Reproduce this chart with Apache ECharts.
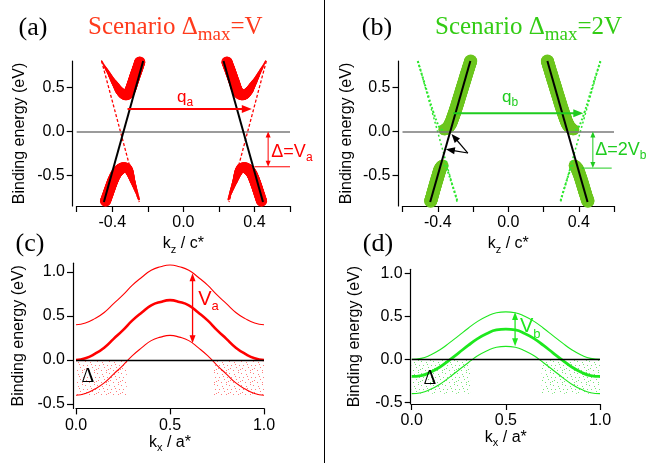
<!DOCTYPE html>
<html><head><meta charset="utf-8">
<script src="https://cdn.jsdelivr.net/npm/echarts@6.0.0/dist/echarts.min.js"></script>
<style>html,body{margin:0;padding:0;background:#fff;}#c{width:648px;height:463px;}</style>
</head><body><div id="c"></div>
<script>
// ================= DATA =================
const kzTicks = [-0.6, -0.4, -0.2, 0, 0.2, 0.4, 0.6];
const kzLabels = [-0.4, 0, 0.4];
const eTicksTop = [-0.5, 0, 0.5];
const kxTicks = [0, 0.5, 1];
const eTicksBottom = [-0.5, 0, 0.5, 1];

// panel (a): unperturbed bands (k, E)
const aBlackL = [[-0.447, -0.8], [-0.226, 0.8]];
const aBlackR = [[0.226, 0.8], [0.448, -0.8]];
const aDashL = [[-0.46, 0.8], [-0.248, -0.8]];
const aDashR = [[0.467, 0.8], [0.257, -0.8]];
// gapped bands (k, E, spectral weight)
const aUL = [[-0.460,0.80,0.12],[-0.440,0.73,0.2],[-0.419,0.66,0.3],[-0.400,0.59,0.42],[-0.381,0.53,0.56],[-0.362,0.47,0.72],[-0.343,0.43,0.86],[-0.325,0.415,0.97],[-0.31,0.43,1],[-0.297,0.48,1],[-0.285,0.55,1],[-0.272,0.63,1],[-0.258,0.71,1],[-0.245,0.79,1]];
const aLL = [[-0.438,-0.79,1],[-0.424,-0.71,1],[-0.41,-0.63,1],[-0.395,-0.55,1],[-0.378,-0.48,1],[-0.36,-0.435,1],[-0.342,-0.412,1],[-0.325,-0.41,0.95],[-0.31,-0.43,0.82],[-0.298,-0.48,0.66],[-0.287,-0.55,0.5],[-0.275,-0.62,0.38],[-0.263,-0.69,0.27],[-0.25,-0.77,0.18]];
const aUR = [[0.245,0.79,1],[0.26,0.71,1],[0.274,0.63,1],[0.288,0.55,1],[0.30,0.48,1],[0.315,0.43,1],[0.335,0.415,0.97],[0.353,0.43,0.86],[0.372,0.47,0.72],[0.39,0.53,0.56],[0.408,0.59,0.42],[0.426,0.66,0.3],[0.445,0.73,0.2],[0.463,0.80,0.12]];
const aLR = [[0.44,-0.79,1],[0.427,-0.71,1],[0.414,-0.63,1],[0.40,-0.55,1],[0.385,-0.48,1],[0.368,-0.435,1],[0.35,-0.412,1],[0.333,-0.41,0.95],[0.318,-0.43,0.82],[0.305,-0.48,0.66],[0.293,-0.55,0.5],[0.28,-0.62,0.38],[0.267,-0.69,0.27],[0.254,-0.77,0.18]];

// panel (b)
const bBlackL = [[-0.443, -0.8], [-0.215, 0.8]];
const bBlackR = [[0.222, 0.8], [0.45, -0.8]];
const bDotL = [[-0.512, 0.8], [-0.29, -0.8]];
const bDotR = [[0.522, 0.8], [0.297, -0.8]];
const bUL = [[-0.213,0.80,1],[-0.232,0.68,1],[-0.252,0.55,1],[-0.272,0.42,1],[-0.292,0.29,1],[-0.312,0.17,1],[-0.33,0.08,1],[-0.348,0.035,0.95],[-0.365,0.02,0.85]];
const bLL = [[-0.44,-0.79,1],[-0.427,-0.70,1],[-0.413,-0.60,1],[-0.398,-0.50,1],[-0.385,-0.42,1],[-0.372,-0.385,0.9]];
const bUR = [[0.222,0.80,1],[0.24,0.68,1],[0.26,0.55,1],[0.28,0.42,1],[0.30,0.29,1],[0.32,0.17,1],[0.338,0.08,1],[0.356,0.035,0.95],[0.372,0.02,0.85]];
const bLR = [[0.452,-0.79,1],[0.437,-0.70,1],[0.422,-0.60,1],[0.406,-0.50,1],[0.39,-0.42,1],[0.376,-0.385,0.9]];
const bULthin = [[-0.372,0.015],[-0.388,0.04],[-0.405,0.11],[-0.425,0.22],[-0.45,0.38],[-0.48,0.58],[-0.514,0.80]];
const bLLthin = [[-0.365,-0.38],[-0.352,-0.41],[-0.338,-0.48],[-0.322,-0.58],[-0.305,-0.68],[-0.287,-0.80]];
const bURthin = [[0.38,0.015],[0.396,0.04],[0.413,0.11],[0.433,0.22],[0.458,0.38],[0.488,0.58],[0.524,0.80]];
const bLRthin = [[0.368,-0.38],[0.357,-0.41],[0.344,-0.48],[0.328,-0.58],[0.312,-0.68],[0.295,-0.80]];

// panels (c), (d)
const kx = [0,0.05,0.1,0.15,0.2,0.25,0.3,0.35,0.4,0.45,0.5,0.55,0.6,0.65,0.7,0.75,0.8,0.85,0.9,0.95,1];
const cMid = [0,0.02,0.07,0.14,0.24,0.34,0.45,0.54,0.62,0.66,0.68,0.66,0.62,0.54,0.45,0.34,0.24,0.14,0.07,0.02,0];
const cUp  = [0.40,0.42,0.47,0.54,0.64,0.74,0.85,0.94,1.02,1.06,1.08,1.06,1.02,0.94,0.85,0.74,0.64,0.54,0.47,0.42,0.40];
const cLow = [-0.40,-0.38,-0.33,-0.26,-0.16,-0.06,0.05,0.14,0.22,0.26,0.28,0.26,0.22,0.14,0.05,-0.06,-0.16,-0.26,-0.33,-0.38,-0.40];
const dMid = [-0.20,-0.19,-0.15,-0.09,-0.01,0.075,0.16,0.24,0.30,0.34,0.35,0.34,0.30,0.24,0.16,0.075,-0.01,-0.09,-0.15,-0.19,-0.20];
const dUp  = [0.00,0.01,0.05,0.11,0.19,0.275,0.36,0.44,0.50,0.54,0.55,0.54,0.50,0.44,0.36,0.275,0.19,0.11,0.05,0.01,0.00];
const dLow = [-0.40,-0.39,-0.35,-0.29,-0.21,-0.125,-0.04,0.04,0.10,0.14,0.15,0.14,0.10,0.04,-0.04,-0.125,-0.21,-0.29,-0.35,-0.39,-0.40];
const cGapK = [[0, 0.27], [0.73, 1]];
const dGapK = [[0, 0.31], [0.69, 1]];
const gapDepth = -0.4;

// ================= STYLE =================
const SANS = '"Liberation Sans", Arial, Helvetica, sans-serif';
const SERIF = '"Liberation Serif", "Times New Roman", serif';
const RED = '#ff0000', RED_T = '#ff3a1c';
const GTHICK = '#6cc61e', GTHIN = '#2ee62e', GREEN = '#1fcc1f', GREEN_T = '#33cc14', GD = '#1ee81e';

const chart = echarts.init(document.getElementById('c'), null, {renderer: 'canvas', width: 648, height: 463});

function xAx(g, min, max, ticks, labels, sub, unit, gap) {
  return {
    type: 'value', gridIndex: g, min: min, max: max,
    axisLine: {onZero: false, lineStyle: {color: '#000', width: 1.2}},
    axisTick: {show: true, length: 6, inside: false, customValues: ticks, lineStyle: {color: '#000', width: 1.2}},
    axisLabel: {customValues: labels, formatter: v => v.toFixed(1), fontFamily: SANS, fontSize: 16, color: '#000', margin: 9},
    splitLine: {show: false},
    name: '{i|k}{s|' + sub + '}{i| / ' + unit + '*}', nameLocation: 'middle', nameGap: gap,
    nameTextStyle: {rich: {
      i: {fontFamily: SANS, fontSize: 16, color: '#000', lineHeight: 22},
      s: {fontFamily: SANS, fontSize: 11, color: '#000', lineHeight: 11, verticalAlign: 'bottom'}
    }}
  };
}
function yAx(g, min, max, ticks, off, gap) {
  return {
    type: 'value', gridIndex: g, min: min, max: max, offset: off,
    axisLine: {show: true, onZero: false, lineStyle: {color: '#000', width: 1.2}},
    axisTick: {show: true, length: 6, inside: false, customValues: ticks, lineStyle: {color: '#000', width: 1.2}},
    axisLabel: {customValues: ticks, formatter: v => v.toFixed(1), fontFamily: SANS, fontSize: 16, color: '#000', margin: 8},
    splitLine: {show: false},
    name: 'Binding energy (eV)', nameLocation: 'middle', nameGap: gap, nameRotate: 90,
    nameTextStyle: {fontFamily: SANS, fontSize: 16, color: '#000', lineHeight: 18}
  };
}

// variable-width band: dense round markers along a smoothed path through the data points
function band(g, pts, color, scale) {
  return {
    type: 'custom', xAxisIndex: g, yAxisIndex: g, clip: false, silent: true, z: 2,
    data: [[pts[0][0], pts[0][1]]],
    renderItem: function (params, api) {
      const c = pts.map(p => { const q = api.coord([p[0], p[1]]); return [q[0], q[1], p[2] * scale / 2]; });
      const n = c.length, kids = [];
      for (let i = 0; i < n - 1; i++) {
        const p0 = c[Math.max(i - 1, 0)], p1 = c[i], p2 = c[i + 1], p3 = c[Math.min(i + 2, n - 1)];
        const steps = Math.max(2, Math.ceil(Math.hypot(p2[0] - p1[0], p2[1] - p1[1]) / 0.8));
        for (let s = 0; s < steps; s++) {
          const t = s / steps, t2 = t * t, t3 = t2 * t;
          const f = (a, b, cc, d) => 0.5 * (2 * b + (-a + cc) * t + (2 * a - 5 * b + 4 * cc - d) * t2 + (-a + 3 * b - 3 * cc + d) * t3);
          kids.push({type: 'circle', shape: {cx: f(p0[0], p1[0], p2[0], p3[0]), cy: f(p0[1], p1[1], p2[1], p3[1]), r: p1[2] + (p2[2] - p1[2]) * t}, style: {fill: color}});
        }
      }
      const last = c[n - 1];
      kids.push({type: 'circle', shape: {cx: last[0], cy: last[1], r: last[2]}, style: {fill: color}});
      return {type: 'group', children: kids};
    }
  };
}
function line(g, data, color, width, type, z, smooth) {
  return {type: 'line', xAxisIndex: g, yAxisIndex: g, data: data, showSymbol: false, symbol: 'none',
    smooth: !!smooth, silent: true, clip: false, z: z || 3,
    lineStyle: {color: color, width: width, type: type || 'solid'}};
}
function zeroLine(g, color, width) {
  return {type: 'line', xAxisIndex: g, yAxisIndex: g, data: [], silent: true, z: 1,
    markLine: {silent: true, symbol: 'none', animation: false, label: {show: false},
      lineStyle: {color: color, width: width, type: 'solid'}, data: [{yAxis: 0}]}};
}
function stipple(color) {
  const c = document.createElement('canvas'); c.width = 12; c.height = 12;
  const x = c.getContext('2d'); x.fillStyle = color;
  [[1,1],[6,2],[10,0],[3,5],[8,7],[0,9],[5,10],[10,10],[7,4],[11,5],[2,8]].forEach(p => x.fillRect(p[0], p[1], 1, 1));
  return c;
}
const xy = (ks, es) => ks.map((k, i) => [k, es[i]]);
const gapAreas = gaps => gaps.map(r => [{coord: [r[0], 0]}, {coord: [r[1], gapDepth]}]);

const option = {
  animation: false,
  backgroundColor: '#fff',
  grid: [
    {left: 76.7, top: 61, width: 213.3, height: 145},
    {left: 402.5, top: 61, width: 211.5, height: 145},
    {left: 76, top: 263.2, width: 188, height: 145.2},
    {left: 411.7, top: 269.3, width: 188.3, height: 134.7}
  ],
  xAxis: [
    xAx(0, -0.6, 0.6, kzTicks, kzLabels, 'z', 'c', 27),
    xAx(1, -0.6, 0.6, kzTicks, kzLabels, 'z', 'c', 27),
    xAx(2, 0, 1, kxTicks, kxTicks, 'x', 'a', 21),
    xAx(3, 0, 1, kxTicks, kxTicks, 'x', 'a', 21)
  ],
  yAxis: [
    yAx(0, -0.845, 0.8, eTicksTop, 4, 44),
    yAx(1, -0.845, 0.8, eTicksTop, 4, 43),
    yAx(2, -0.55, 1.1, eTicksBottom, 3, 45),
    yAx(3, -0.52, 1.045, eTicksBottom, 1, 47)
  ],
  series: [
    // (a)
    zeroLine(0, '#7a7a7a', 1.6),
    line(0, aDashL, RED, 1.3, [3, 2], 2),
    line(0, aDashR, RED, 1.3, [3, 2], 2),
    band(0, aUL, RED, 11), band(0, aLL, RED, 11), band(0, aUR, RED, 11), band(0, aLR, RED, 11),
    line(0, aBlackL, '#000', 2, 'solid', 5),
    line(0, aBlackR, '#000', 2, 'solid', 5),
    // (b)
    zeroLine(1, '#7a7a7a', 1.6),
    line(1, bDotL, GTHIN, 1.5, [2, 2.5], 2),
    line(1, bDotR, GTHIN, 1.5, [2, 2.5], 2),
    line(1, bULthin, GTHIN, 2, [2, 2], 2, true),
    line(1, bLLthin, GTHIN, 2, [2, 2], 2, true),
    line(1, bURthin, GTHIN, 2, [2, 2], 2, true),
    line(1, bLRthin, GTHIN, 2, [2, 2], 2, true),
    band(1, bUL, GTHICK, 13), band(1, bLL, GTHICK, 13), band(1, bUR, GTHICK, 13), band(1, bLR, GTHICK, 13),
    line(1, bBlackL, '#000', 2, 'solid', 5),
    line(1, bBlackR, '#000', 2, 'solid', 5),
    // (c)
    Object.assign(line(2, xy(kx, cMid), RED, 2.6, 'solid', 3, true), {
      markArea: {silent: true, itemStyle: {color: {image: stipple('rgba(255,40,40,0.6)'), repeat: 'repeat'}}, data: gapAreas(cGapK)}
    }),
    line(2, xy(kx, cUp), RED, 1.1, 'solid', 3, true),
    line(2, xy(kx, cLow), RED, 1.1, 'solid', 3, true),
    Object.assign(zeroLine(2, '#000', 1.3), {z: 6}),
    // (d)
    Object.assign(line(3, xy(kx, dMid), GD, 2.8, 'solid', 3, true), {
      markArea: {silent: true, itemStyle: {color: {image: stipple('rgba(30,210,30,0.6)'), repeat: 'repeat'}}, data: gapAreas(dGapK)}
    }),
    line(3, xy(kx, dUp), GD, 1.1, 'solid', 3, true),
    line(3, xy(kx, dLow), GD, 1.1, 'solid', 3, true),
    Object.assign(zeroLine(3, '#000', 1.3), {z: 6})
  ]
};
chart.setOption(option);

// ================= ANNOTATIONS (placed via the axes' scales) =================
const P = (g, k, e) => chart.convertToPixel({xAxisIndex: g, yAxisIndex: g}, [k, e]);
const G = [];
function head(tip, ux, uy, hl, hw, color) {
  const nx = -uy, ny = ux;
  return {type: 'polygon', z: 100, shape: {points: [tip, [tip[0]-ux*hl+nx*hw/2, tip[1]-uy*hl+ny*hw/2], [tip[0]-ux*hl-nx*hw/2, tip[1]-uy*hl-ny*hw/2]]}, style: {fill: color}};
}
function arrow(p0, p1, color, lw, hl, hw, both) {
  const dx = p1[0]-p0[0], dy = p1[1]-p0[1], L = Math.hypot(dx, dy), ux = dx/L, uy = dy/L;
  const s = both ? [p0[0]+ux*hl*0.7, p0[1]+uy*hl*0.7] : p0;
  const e = [p1[0]-ux*hl*0.7, p1[1]-uy*hl*0.7];
  G.push({type: 'line', z: 100, shape: {x1: s[0], y1: s[1], x2: e[0], y2: e[1]}, style: {stroke: color, lineWidth: lw}});
  G.push(head(p1, ux, uy, hl, hw, color));
  if (both) G.push(head(p0, -ux, -uy, hl, hw, color));
}
function seg(p0, p1, color, lw) {
  G.push({type: 'line', z: 100, shape: {x1: p0[0], y1: p0[1], x2: p1[0], y2: p1[1]}, style: {stroke: color, lineWidth: lw}});
}
function rtext(p, text, color, font, size, subSize, align, lh) {
  G.push({type: 'text', z: 100, x: p[0], y: p[1], style: {
    text: text, align: align || 'center', verticalAlign: 'middle',
    rich: {
      m: {fontFamily: font, fontSize: size, fill: color, lineHeight: lh || Math.round(size * 1.35), verticalAlign: 'middle'},
      s: {fontFamily: font, fontSize: subSize, fill: color, lineHeight: subSize, verticalAlign: 'bottom'}
    }}});
}
function ptext(x, y, text, size, color, font, align, vAlign) {
  G.push({type: 'text', z: 100, x: x, y: y, style: {text: text, fontFamily: font, fontSize: size, fill: color, align: align || 'center', verticalAlign: vAlign || 'middle'}});
}

// (a)
arrow(P(0, -0.314, 0.256), P(0, 0.385, 0.256), RED, 2, 10, 8);
rtext(P(0, 0.01, 0.39), '{m|q}{s|a}', RED, SANS, 17, 12);
arrow(P(0, 0.477, 0), P(0, 0.477, -0.40), RED, 1, 6, 5, true);
seg(P(0, 0.40, -0.40), P(0, 0.60, -0.40), RED, 1);
rtext(P(0, 0.495, -0.23), '{m|Δ=V}{s|a}', RED, SANS, 18, 12, 'left');
// (b)
arrow(P(1, -0.3125, 0.207), P(1, 0.426, 0.207), GREEN, 2, 10, 8);
rtext(P(1, 0.01, 0.39), '{m|q}{s|b}', GREEN, SANS, 17, 12);
arrow(P(1, 0.48, 0), P(1, 0.48, -0.415), GREEN, 1, 6, 5, true);
seg(P(1, 0.417, -0.415), P(1, 0.587, -0.415), GREEN, 1);
rtext(P(1, 0.493, -0.21), '{m|Δ=2V}{s|b}', GREEN, SANS, 18, 12, 'left');
arrow(P(1, -0.229, -0.244), P(1, -0.322, -0.028), '#000', 1.2, 9, 7);
arrow(P(1, -0.229, -0.244), P(1, -0.354, -0.202), '#000', 1.2, 9, 7);
// (c)
arrow(P(2, 0.62, 0.19), P(2, 0.62, 0.985), RED, 1.3, 8, 6, true);
rtext(P(2, 0.65, 0.69), '{m|V}{s|a}', RED, SANS, 20, 13, 'left');
ptext(P(2, 0.064, -0.19)[0], P(2, 0.064, -0.19)[1], 'Δ', 20, '#000', SERIF);
// (d)
arrow(P(3, 0.549, 0.15), P(3, 0.549, 0.55), GD, 1.3, 8, 6, true);
rtext(P(3, 0.575, 0.375), '{m|V}{s|b}', GD, SANS, 20, 13, 'left');
ptext(P(3, 0.097, -0.23)[0], P(3, 0.097, -0.23)[1], 'Δ', 20, '#000', SERIF);

// panel letters and titles
ptext(33, 28, '(a)', 26, '#000', SERIF);
ptext(377, 28, '(b)', 26, '#000', SERIF);
ptext(30, 244, '(c)', 26, '#000', SERIF);
ptext(378, 244, '(d)', 26, '#000', SERIF);
function title(x, text, color) {
  G.push({type: 'text', z: 100, x: x, y: 10.5, style: {text: text, align: 'left', verticalAlign: 'top',
    rich: {
      m: {fontFamily: SERIF, fontSize: 25, fill: color, lineHeight: 34, verticalAlign: 'middle'},
      s: {fontFamily: SERIF, fontSize: 19, fill: color, lineHeight: 19, verticalAlign: 'bottom'}
    }}});
}
title(88, '{m|Scenario Δ}{s|max}{m|=V}', RED_T);
title(435, '{m|Scenario Δ}{s|max}{m|=2V}', GREEN_T);
// separator
G.push({type: 'line', z: 100, shape: {x1: 324.5, y1: 0, x2: 324.5, y2: 463}, style: {stroke: '#000', lineWidth: 1}});

chart.setOption({graphic: G});
</script>
</body></html>
